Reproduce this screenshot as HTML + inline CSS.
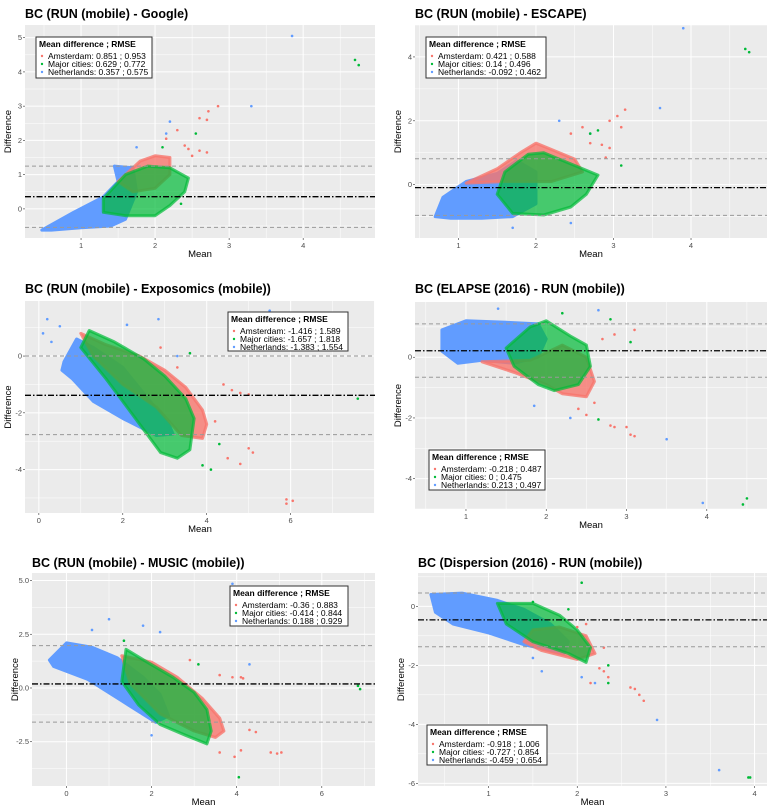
<!DOCTYPE html>
<html><head><meta charset="utf-8">
<style>
html,body{margin:0;padding:0;background:#fff;}
svg{display:block;font-family:"Liberation Sans",sans-serif;}
</style></head>
<body>
<svg id="chart" width="781" height="809" viewBox="0 0 781 809"></svg>
<script>
// ---------- data ----------
const panelTitles = ["BC (RUN (mobile) - Google)","BC (RUN (mobile) - ESCAPE)","BC (RUN (mobile) - Exposomics (mobile))","BC (ELAPSE (2016) - RUN (mobile))","BC (RUN (mobile) - MUSIC (mobile))","BC (Dispersion (2016) - RUN (mobile))"];
const groupNames = ["Amsterdam","Major cities","Netherlands"];
const legendValues = [
 ["0.851 ; 0.953","0.629 ; 0.772","0.357 ; 0.575"],
 ["0.421 ; 0.588","0.14 ; 0.496","-0.092 ; 0.462"],
 ["-1.416 ; 1.589","-1.657 ; 1.818","-1.383 ; 1.554"],
 ["-0.218 ; 0.487","0 ; 0.475","0.213 ; 0.497"],
 ["-0.36 ; 0.883","-0.414 ; 0.844","0.188 ; 0.929"],
 ["-0.918 ; 1.006","-0.727 ; 0.854","-0.459 ; 0.654"]
];
const xTicks = [[1,2,3,4],[1,2,3,4],[0,2,4,6],[1,2,3,4],[0,2,4,6],[1,2,3,4]];
const yTicks = [[0,1,2,3,4,5],[0,2,4],[-4,-2,0],[-4,-2,0],[-2.5,0,2.5,5],[-6,-4,-2,0]];
const yTickLabels = [["0","1","2","3","4","5"],["0","2","4"],["-4","-2","0"],["-4","-2","0"],["-2.5","0.0","2.5","5.0"],["-6","-4","-2","0"]];
const xDomains = [[0.243,4.97],[0.44,4.98],[-0.33,8.01],[0.365,4.75],[-0.81,7.25],[0.204,4.14]];
const yDomains = [[-0.85,5.37],[-1.67,5.0],[-5.53,1.94],[-5.0,1.82],[-4.56,5.35],[-6.09,1.13]];
// limits of agreement: upper, mean, lower
const upperLoA = [1.25,0.81,0.0,1.1,1.97,0.45];
const meanDiff = [0.357,-0.092,-1.383,0.213,0.188,-0.459];
const lowerLoA = [-0.54,-0.96,-2.77,-0.66,-1.59,-1.37];
// dense point clouds (outline vertices in [mean, difference])
const cloudNL = [
 [[0.47,-0.62],[0.9,-0.1],[1.3,0.35],[1.5,0.8],[1.45,1.25],[1.7,1.2],[1.75,0.5],[1.6,-0.3],[1.4,-0.5],[1.0,-0.55],[0.6,-0.62]],
 [[0.7,-1.0],[0.8,-0.4],[1.1,0.1],[1.5,0.35],[1.75,0.75],[2.0,0.4],[2.0,-0.6],[1.7,-1.0],[1.3,-1.05],[0.9,-1.05]],
 [[0.6,-0.2],[0.9,0.6],[1.3,0.3],[2.0,-0.4],[2.6,-1.5],[3.1,-2.4],[3.2,-2.75],[2.8,-2.8],[2.0,-2.2],[1.3,-1.6],[0.8,-0.8],[0.55,-0.5]],
 [[0.7,0.9],[1.0,1.2],[1.5,1.15],[1.9,1.1],[2.0,0.6],[1.9,0.0],[1.6,-0.2],[1.2,-0.1],[0.9,-0.2],[0.7,0.2]],
 [[-0.4,1.3],[0.0,2.1],[0.6,1.9],[1.2,1.4],[1.8,0.5],[2.2,-0.3],[2.4,-1.3],[2.1,-1.6],[1.3,-0.6],[0.5,0.4],[-0.3,1.0]],
 [[0.35,0.4],[0.7,0.45],[1.1,0.2],[1.4,-0.1],[1.7,-0.6],[1.9,-1.2],[1.85,-1.6],[1.4,-1.3],[1.0,-0.9],[0.6,-0.6],[0.4,-0.2]]
];
const cloudAms = [
 [[1.5,0.8],[1.8,1.4],[2.0,1.55],[2.2,1.5],[2.2,1.0],[2.0,0.6],[1.7,0.5]],
 [[1.1,0.05],[1.5,0.5],[1.8,1.0],[2.0,1.3],[2.2,1.1],[2.5,0.8],[2.6,0.4],[2.2,0.1],[1.6,0.1]],
 [[1.0,0.8],[1.6,0.4],[2.4,0.0],[3.0,-0.5],[3.5,-1.1],[3.9,-1.9],[4.0,-2.4],[3.9,-2.9],[3.4,-2.8],[2.8,-1.8],[2.0,-1.0],[1.3,0.0]],
 [[1.2,-0.15],[1.6,-0.5],[2.0,-0.9],[2.2,-1.2],[2.5,-1.3],[2.6,-0.8],[2.5,0.0],[2.2,0.4],[1.8,-0.1]],
 [[1.3,1.5],[2.0,1.2],[2.6,0.5],[3.2,-0.5],[3.6,-1.4],[3.7,-2.0],[3.5,-2.3],[3.0,-2.0],[2.2,-1.2],[1.5,0.2]],
 [[1.5,-0.8],[1.8,-0.7],[2.1,-1.0],[2.2,-1.6],[2.0,-1.8],[1.6,-1.5],[1.4,-1.2]]
];
const cloudMaj = [
 [[1.3,0.3],[1.6,1.0],[1.9,1.25],[2.2,1.2],[2.45,0.9],[2.4,0.5],[2.2,0.1],[2.0,-0.2],[1.6,-0.2],[1.3,-0.1]],
 [[1.5,-0.3],[1.6,0.4],[1.9,0.95],[2.1,1.0],[2.5,0.6],[2.8,0.3],[2.65,-0.3],[2.45,-0.7],[2.1,-0.95],[1.7,-0.9]],
 [[1.2,0.9],[1.8,0.5],[2.5,-0.1],[3.0,-0.7],[3.5,-1.5],[3.7,-2.2],[3.6,-3.3],[3.3,-3.6],[2.9,-3.4],[2.5,-2.6],[2.1,-1.8],[1.6,-0.8],[1.0,0.3]],
 [[1.5,0.3],[1.8,1.0],[2.0,1.2],[2.3,0.7],[2.5,0.4],[2.55,-0.3],[2.4,-0.9],[2.1,-1.1],[1.9,-0.9],[1.6,-0.3]],
 [[1.4,1.8],[1.9,1.2],[2.5,0.5],[3.0,-0.2],[3.3,-1.0],[3.4,-2.0],[3.3,-2.6],[2.8,-2.2],[2.2,-1.7],[1.7,-0.8],[1.3,0.3]],
 [[1.1,0.1],[1.5,0.1],[1.8,-0.3],[2.0,-0.8],[2.15,-1.4],[2.1,-1.9],[1.9,-1.6],[1.5,-1.2],[1.2,-0.6]]
];
// individual outlying points [mean, difference]
const pointsAms = [
 [[2.85,3.0],[2.6,2.65],[2.7,2.6],[2.72,2.85],[2.7,1.65],[2.45,1.75],[2.3,2.3],[2.4,1.85],[2.6,1.7],[2.15,2.05],[2.5,1.55]],
 [[3.15,2.35],[2.95,2.0],[3.05,2.15],[3.1,1.8],[2.95,1.15],[2.7,1.3],[2.85,1.25],[2.45,1.6],[2.6,1.8],[2.9,0.85]],
 [[5.9,-5.05],[6.05,-5.1],[5.9,-5.2],[5.0,-3.25],[5.1,-3.4],[4.8,-3.8],[4.5,-3.6],[4.4,-1.0],[4.6,-1.2],[5.0,-1.35],[4.8,-1.3],[2.9,0.3],[3.3,-0.4],[4.2,-2.3]],
 [[3.05,-2.55],[3.1,-2.6],[3.0,-2.3],[2.8,-2.25],[2.85,-2.3],[2.5,-1.9],[2.6,-1.5],[3.1,0.9],[2.85,0.75],[2.7,0.6],[2.4,-1.7]],
 [[4.8,-3.0],[4.95,-3.05],[5.05,-3.0],[4.1,-2.9],[3.95,-3.2],[3.6,-3.0],[4.3,-1.95],[4.45,-2.05],[4.1,0.5],[4.15,0.45],[3.6,0.6],[3.9,0.5],[2.9,1.3]],
 [[2.6,-2.75],[2.65,-2.8],[2.7,-3.0],[2.75,-3.2],[2.3,-2.2],[2.35,-2.4],[2.25,-2.1],[2.15,-2.6],[2.0,-0.7],[2.1,-0.6],[2.3,-1.4]]
];
const pointsMaj = [
 [[4.7,4.35],[4.75,4.2],[2.55,2.2],[2.35,0.15],[2.1,1.8]],
 [[4.7,4.25],[4.75,4.15],[3.1,0.6],[2.8,1.7],[2.7,1.6]],
 [[7.6,-1.5],[3.6,0.1],[3.9,-3.85],[4.1,-4.0],[4.3,-3.1]],
 [[4.5,-4.65],[4.45,-4.85],[2.8,1.25],[3.05,0.5],[2.65,-2.05],[2.2,1.45]],
 [[6.85,0.1],[6.9,-0.05],[4.05,-4.15],[3.1,1.1],[1.35,2.2]],
 [[3.95,-5.8],[3.93,-5.8],[2.05,0.8],[1.9,-0.1],[2.35,-2.6],[2.35,-2.0],[1.5,0.15]]
];
const pointsNL = [
 [[3.85,5.05],[3.3,3.0],[2.2,2.55],[2.15,2.2],[1.75,1.8],[1.45,1.25]],
 [[3.9,4.9],[3.6,2.4],[2.3,2.0],[2.7,1.6],[1.7,-1.35],[2.45,-1.2]],
 [[0.2,1.3],[0.1,0.8],[0.3,0.5],[2.1,1.1],[2.85,1.3],[5.5,1.6],[0.5,1.05],[3.3,0.0]],
 [[3.95,-4.8],[3.5,-2.7],[2.3,-2.0],[1.85,-1.6],[2.65,1.55],[1.4,1.6]],
 [[1.0,3.2],[1.8,2.9],[2.2,2.6],[3.9,4.85],[4.3,1.1],[2.0,-2.2],[0.6,2.7]],
 [[3.6,-5.55],[2.9,-3.85],[1.6,-2.2],[1.5,-1.75],[2.05,-2.4],[2.2,-2.6]]
];
// ---------- layout (pixels) ----------
const layout = [
 {l:25,r:375,t:25,b:238,ty:18,leg:{x:36,y:37,w:116,h:41}},
 {l:415,r:767,t:25,b:238,ty:18,leg:{x:426,y:37,w:120,h:41}},
 {l:25,r:375,t:301,b:513,ty:293,leg:{x:228,y:312,w:120,h:39}},
 {l:415,r:767,t:302,b:509,ty:293,leg:{x:429,y:450,w:116,h:40}},
 {l:32,r:375,t:573,b:786,ty:567,leg:{x:230,y:586,w:118,h:40}},
 {l:418,r:767,t:573,b:786,ty:567,leg:{x:427,y:725,w:120,h:40}}
];
const COLORS = ["#F8766D","#00BA38","#619CFF"];
const OPAC = [0.8,0.7,1];
const NS = "http://www.w3.org/2000/svg";
const svg = document.getElementById("chart");
function mk(tag, attrs, parent){
  const e = document.createElementNS(NS, tag);
  for (const k in attrs) e.setAttribute(k, attrs[k]);
  (parent||svg).appendChild(e);
  return e;
}
for (let p=0;p<6;p++){
  const L = layout[p];
  const xd = xDomains[p], yd = yDomains[p];
  const X = v => L.l + (v - xd[0])/(xd[1]-xd[0])*(L.r-L.l);
  const Y = v => L.b - (v - yd[0])/(yd[1]-yd[0])*(L.b-L.t);
  const g = mk("g",{});
  
  
  const title = mk("text",{x:L.l, y:L.ty, "font-size":12.5, "font-weight":"bold", fill:"#000"}, g);
  title.textContent = panelTitles[p];
  
  
  const bg = mk("rect",{x:L.l,y:L.t,width:L.r-L.l,height:L.b-L.t,fill:"#EBEBEB"}, g);
  
  
  const xt = xTicks[p], yt = yTicks[p];
  const xs = xt[1]-xt[0], ys = yt[1]-yt[0];
  for (let v = xt[0]-xs*2; v <= xd[1]; v += xs/2){
    if (v < xd[0]) continue;
    const major = Math.abs((v - xt[0])/xs - Math.round((v - xt[0])/xs)) < 1e-6;
    mk("line",{x1:X(v),x2:X(v),y1:L.t,y2:L.b,stroke:"#fff","stroke-width":major?1:0.5}, g);
  }
  for (let v = yt[0]-ys*3; v <= yd[1]; v += ys/2){
    if (v < yd[0]) continue;
    const major = Math.abs((v - yt[0])/ys - Math.round((v - yt[0])/ys)) < 1e-6;
    mk("line",{y1:Y(v),y2:Y(v),x1:L.l,x2:L.r,stroke:"#fff","stroke-width":major?1:0.5}, g);
  }
  xt.forEach(v=>{
    mk("line",{x1:X(v),x2:X(v),y1:L.b,y2:L.b+2,stroke:"#333","stroke-width":0.6}, g);
    const t = mk("text",{x:X(v),y:L.b+10,"font-size":7.5,fill:"#4D4D4D","text-anchor":"middle"}, g);
    t.textContent = String(v);
    
    
  });
  yt.forEach((v,i)=>{
    mk("line",{x1:L.l-2,x2:L.l,y1:Y(v),y2:Y(v),stroke:"#333","stroke-width":0.6}, g);
    const t = mk("text",{x:L.l-3,y:Y(v)+2.5,"font-size":7.5,fill:"#4D4D4D","text-anchor":"end"}, g);
    t.textContent = yTickLabels[p][i];
    
    
  });
  const xl = mk("text",{x:(L.l+L.r)/2,y:L.b+19,"font-size":9.5,fill:"#000","text-anchor":"middle"}, g);
  xl.textContent = "Mean";
  
  
  const yx = L.l-14, yy = (L.t+L.b)/2;
  const yl = mk("text",{x:yx,y:yy,"font-size":9.5,fill:"#000","text-anchor":"middle",transform:`rotate(-90 ${yx} ${yy})`}, g);
  yl.textContent = "Difference";
  
  
  const clouds = [[cloudNL[p],2],[cloudAms[p],0],[cloudMaj[p],1]];
  clouds.forEach(([poly,c])=>{
    const pts = poly.map(q=>X(q[0]).toFixed(1)+","+Y(q[1]).toFixed(1)).join(" ");
    const pg = mk("polygon",{points:pts,fill:COLORS[c],"fill-opacity":OPAC[c],stroke:COLORS[c],"stroke-opacity":OPAC[c],"stroke-width":3,"stroke-linejoin":"round"}, g);
    
    
  });
  const pts = [[pointsNL[p],2],[pointsAms[p],0],[pointsMaj[p],1]];
  pts.forEach(([arr,c])=>{
    arr.forEach(q=>{
      const ci = mk("circle",{cx:X(q[0]),cy:Y(q[1]),r:1.3,fill:COLORS[c]}, g);
      
      
    });
  });
  const lines = [[upperLoA[p],"#999","4,3",1,'upper-limit-line'],[lowerLoA[p],"#999","4,3",1,'lower-limit-line'],[meanDiff[p],"#000","6,2,1.5,2",1.3,'mean-difference-line']];
  lines.forEach(([v,col,da,w,nm])=>{
    const ln = mk("line",{x1:L.l,x2:L.r,y1:Y(v),y2:Y(v),stroke:col,"stroke-width":w,"stroke-dasharray":da}, g);
    
    
  });
  const lg = L.leg;
  const leg = mk("g",{}, g);
  
  
  mk("rect",{x:lg.x,y:lg.y,width:lg.w,height:lg.h,fill:"#fff",stroke:"#333","stroke-width":1}, leg);
  const lt = mk("text",{x:lg.x+3,y:lg.y+10,"font-size":8.5,"font-weight":"bold",fill:"#000"}, leg);
  lt.textContent = "Mean difference ; RMSE";
  
  
  for (let i=0;i<3;i++){
    const yy2 = lg.y+19+i*8;
    mk("circle",{cx:lg.x+6,cy:yy2,r:1.2,fill:COLORS[i]}, leg);
    const et = mk("text",{x:lg.x+12,y:yy2+3,"font-size":8.5,fill:"#000"}, leg);
    et.textContent = groupNames[i]+": "+legendValues[p][i];
    
    
  }
}
</script>
</body></html>
